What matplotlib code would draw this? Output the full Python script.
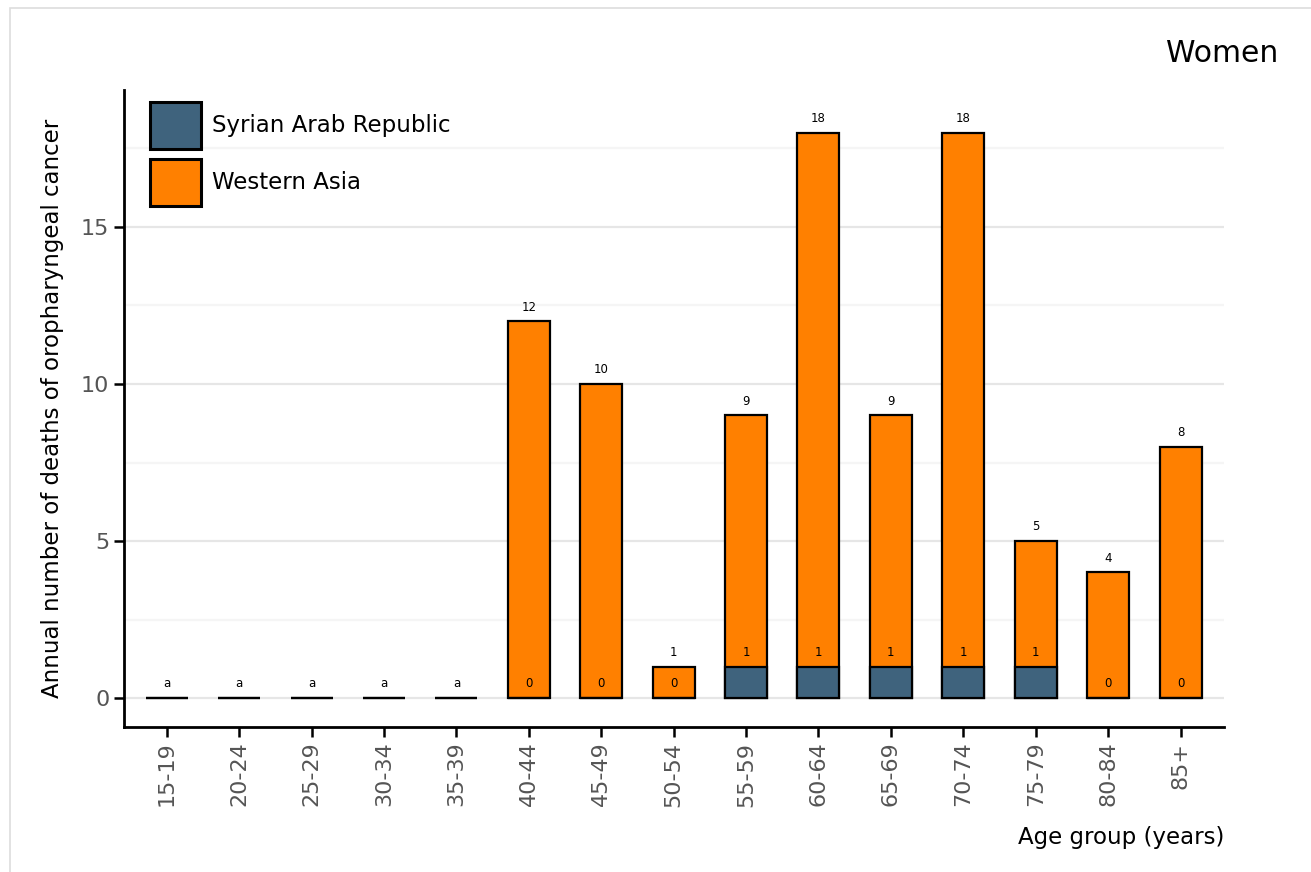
import matplotlib

matplotlib.use("Agg")
import matplotlib.pyplot as plt  # noqa: E402
from matplotlib.patches import Patch, Rectangle  # noqa: E402
from matplotlib.ticker import MultipleLocator  # noqa: E402

age_groups = ["15-19", "20-24", "25-29", "30-34", "35-39", "40-44", "45-49",
              "50-54", "55-59", "60-64", "65-69", "70-74", "75-79", "80-84", "85+"]
western_asia = [0, 0, 0, 0, 0, 12, 10, 1, 9, 18, 9, 18, 5, 4, 8]
syria = [0, 0, 0, 0, 0, 0, 0, 0, 1, 1, 1, 1, 1, 0, 0]

ORANGE = "#FF8000"
SLATE = "#3F637D"

fig = plt.figure(figsize=(13.11, 8.72), dpi=100)
fig.patches.append(Rectangle((10 / 1311, -0.1), 1.2, (864 / 872) + 0.1,
                             transform=fig.transFigure, fill=False,
                             edgecolor="#DDDDDD", linewidth=1.2))
ax = fig.add_axes([124 / 1311, 145 / 872, 1100 / 1311, 637 / 872])

x = range(len(age_groups))
ax.bar(x, western_asia, width=0.58, color=ORANGE, edgecolor="black", linewidth=1.6, zorder=3)
ax.bar(x, syria, width=0.58, color=SLATE, edgecolor="black", linewidth=1.6, zorder=4)

off = 0.45
for i, (w, s) in enumerate(zip(western_asia, syria)):
    if w == 0 and s == 0:
        ax.text(i, off, "a", ha="center", va="center", fontsize=8.5, zorder=5)
        continue
    ax.text(i, w + off, str(w), ha="center", va="center", fontsize=8.5, zorder=5)
    ax.text(i, s + off, str(s), ha="center", va="center", fontsize=8.5, zorder=5)

ax.set_xlim(-0.59, 14.6)
ax.set_ylim(-0.92, 19.36)
ax.yaxis.set_major_locator(MultipleLocator(5))
ax.yaxis.set_minor_locator(MultipleLocator(2.5))
ax.grid(axis="y", which="major", color="#E6E6E6", linewidth=1.6, zorder=0)
ax.grid(axis="y", which="minor", color="#F5F5F5", linewidth=1.6, zorder=0)
ax.set_xticks(list(x))
ax.set_xticklabels(age_groups, rotation=90)
ax.tick_params(axis="both", which="major", labelsize=16, labelcolor="#555555",
               length=7, width=1.8, direction="out")
ax.tick_params(axis="y", which="minor", length=0)
ax.spines["top"].set_visible(False)
ax.spines["right"].set_visible(False)
for sp in ("left", "bottom"):
    ax.spines[sp].set_linewidth(2)

ax.set_ylabel("Annual number of deaths of oropharyngeal cancer", fontsize=16.5, labelpad=12)
ax.set_xlabel("Age group (years)", fontsize=16.5, loc="right", labelpad=14)
fig.text(1278 / 1311, 1 - 53 / 872, "Women", ha="right", va="center", fontsize=21.5)

handles = [Patch(facecolor=SLATE, edgecolor="black", linewidth=2.2),
           Patch(facecolor=ORANGE, edgecolor="black", linewidth=2.2)]
ax.legend(handles, ["Syrian Arab Republic", "Western Asia"], loc="upper left",
          bbox_to_anchor=(0.005, 1.014), frameon=False, fontsize=16.5,
          handlelength=2.2, handleheight=2.8, labelspacing=0.42, handletextpad=0.5)

fig.savefig("out.png", dpi=100)
